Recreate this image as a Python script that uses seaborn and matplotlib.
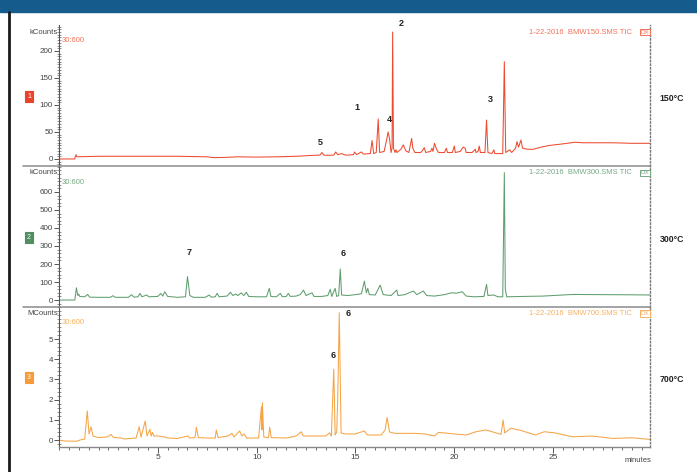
import matplotlib
matplotlib.use("Agg")
import matplotlib.pyplot as plt
import pandas as pd
import seaborn as sns
from matplotlib.lines import Line2D
from matplotlib.patches import Rectangle
from matplotlib.ticker import MultipleLocator, FixedLocator

# chromatogram points: (minutes, counts)
trace150 = [(0, 0), (0.8, 0), (0.82, 4), (0.86, 8), (0.9, 4), (2, 5), (4, 5), (6, 5),
            (7.5, 4), (7.8, 2.5), (8.5, 3), (9, 4), (10, 3.5), (11, 4), (12, 5), (12.5, 6),
            (13.0, 7), (13.2, 7), (13.3, 12), (13.4, 7), (13.9, 7), (14.0, 13), (14.1, 8),
            (14.3, 10), (14.5, 7), (14.9, 8), (14.95, 13), (15.05, 8), (15.3, 13), (15.4, 9),
            (15.75, 10), (15.84, 34), (15.92, 10), (16.05, 12), (16.15, 74), (16.22, 12),
            (16.45, 14), (16.6, 40), (16.65, 50), (16.72, 38), (16.8, 12), (16.85, 20),
            (16.88, 235), (16.92, 20), (17.0, 12), (17.05, 17), (17.1, 12), (17.3, 18),
            (17.42, 26), (17.55, 15), (17.7, 12), (17.8, 30), (17.84, 38), (17.9, 20),
            (18.0, 12), (18.3, 12), (18.4, 16), (18.48, 21), (18.55, 12), (18.8, 14),
            (18.87, 20), (18.92, 14), (19.0, 29), (19.1, 18), (19.2, 12), (19.5, 12),
            (19.6, 20), (19.65, 12), (19.9, 12), (20.0, 24), (20.05, 12), (20.3, 14),
            (20.45, 22), (20.55, 20), (20.6, 12), (20.9, 12), (21.06, 18), (21.1, 12),
            (21.2, 14), (21.26, 24), (21.32, 12), (21.55, 12), (21.63, 72), (21.7, 12),
            (21.9, 10), (22.0, 17), (22.05, 10), (22.45, 10), (22.53, 180), (22.6, 12),
            (22.8, 17), (22.9, 12), (23.1, 20), (23.17, 32), (23.25, 22), (23.37, 35),
            (23.45, 20), (23.7, 18), (24.0, 18), (24.4, 22), (24.8, 25), (25.5, 28),
            (26.1, 31), (26.5, 30), (27.3, 30), (28.0, 30), (29.0, 29), (29.9, 29)]

trace300 = [(0, 0), (0.8, 0), (0.88, 68), (0.95, 25), (1.0, 33), (1.05, 20), (1.3, 18),
            (1.45, 31), (1.55, 16), (2.0, 15), (2.6, 15), (2.73, 24), (2.85, 15), (3.5, 15),
            (3.67, 29), (3.8, 16), (4.0, 18), (4.09, 37), (4.2, 18), (4.43, 28), (4.55, 18),
            (5.0, 20), (5.15, 37), (5.25, 22), (5.35, 46), (5.5, 20), (6.0, 15), (6.4, 18),
            (6.5, 130), (6.62, 25), (6.8, 15), (7.4, 15), (7.6, 28), (7.7, 16), (7.9, 18),
            (8.0, 37), (8.1, 18), (8.5, 22), (8.67, 43), (8.8, 25), (8.94, 33), (9.05, 25),
            (9.22, 40), (9.35, 25), (9.48, 43), (9.6, 20), (10.0, 18), (10.5, 18),
            (10.64, 65), (10.72, 20), (11.0, 18), (11.2, 37), (11.3, 18), (11.5, 20),
            (11.6, 37), (11.7, 20), (12.0, 22), (12.2, 30), (12.37, 55), (12.5, 25),
            (12.8, 40), (12.9, 20), (13.3, 20), (13.6, 25), (13.72, 59), (13.8, 20),
            (13.97, 65), (14.05, 20), (14.15, 25), (14.23, 172), (14.3, 28), (14.6, 25),
            (15.0, 30), (15.3, 35), (15.45, 105), (15.55, 40), (15.62, 65), (15.7, 30),
            (16.0, 28), (16.25, 83), (16.4, 30), (16.8, 25), (17.09, 55), (17.15, 25),
            (17.5, 30), (17.93, 50), (18.1, 30), (18.43, 50), (18.6, 25), (19.0, 22),
            (19.5, 30), (19.85, 40), (20.1, 38), (20.4, 46), (20.6, 22), (21.0, 18),
            (21.5, 20), (21.63, 87), (21.7, 25), (22.0, 28), (22.2, 18), (22.45, 18),
            (22.53, 707), (22.58, 60), (22.65, 18), (23.5, 20), (24.5, 22), (26.0, 31),
            (27.5, 30), (29.0, 29), (29.9, 28)]

trace700 = [(0, 0), (0.3, -0.05), (0.9, -0.06), (1.06, 0.0), (1.3, 0.05), (1.43, 1.44),
            (1.52, 0.3), (1.62, 0.66), (1.72, 0.2), (2.0, 0.12), (2.4, 0.15), (2.5, 0.18),
            (2.63, 0.28), (2.75, 0.13), (3.17, 0.1), (3.3, 0.05), (3.9, 0.1), (4.06, 0.66),
            (4.15, 0.15), (4.36, 0.94), (4.45, 0.2), (4.6, 0.53), (4.66, 0.2), (4.73, 0.38),
            (4.8, 0.2), (5.0, 0.2), (5.35, 0.15), (5.5, 0.1), (6.0, 0.08), (6.53, 0.2),
            (6.6, 0.1), (6.88, 0.12), (6.95, 0.63), (7.05, 0.12), (7.5, 0.1), (7.9, 0.1),
            (7.96, 0.5), (8.05, 0.12), (8.55, 0.2), (8.75, 0.33), (8.85, 0.15), (9.14, 0.45),
            (9.25, 0.2), (9.36, 0.3), (9.5, 0.1), (10.1, 0.1), (10.24, 1.65), (10.27, 0.5),
            (10.29, 1.85), (10.36, 0.15), (10.6, 0.12), (10.66, 0.63), (10.74, 0.12),
            (11.5, 0.1), (12.0, 0.2), (12.26, 0.41), (12.35, 0.2), (13.0, 0.2), (13.5, 0.2),
            (13.69, 0.36), (13.78, 0.2), (13.9, 3.51), (13.97, 0.25), (14.05, 0.4),
            (14.1, 1.98), (14.18, 6.3), (14.27, 0.35), (14.5, 0.3), (15.0, 0.3),
            (15.45, 0.45), (15.6, 0.25), (16.3, 0.25), (16.5, 0.5), (16.6, 1.12),
            (16.72, 0.4), (17.0, 0.33), (18.0, 0.33), (18.5, 0.3), (19.0, 0.2), (19.2, 0.38),
            (20.0, 0.3), (20.6, 0.25), (21.1, 0.41), (21.6, 0.5), (22.36, 0.28),
            (22.47, 0.99), (22.55, 0.35), (22.86, 0.58), (23.28, 0.5), (24.1, 0.25),
            (24.55, 0.41), (25.05, 0.36), (25.98, 0.16), (26.98, 0.2), (28.0, 0.08),
            (29.0, 0.11), (29.9, 0.03)]

# peak numbers: (label, minutes, counts where the number sits)
peaks150 = [("5", 13.22, 31), ("1", 15.06, 96), ("4", 16.7, 73.5), ("2", 17.31, 251), ("3", 21.82, 111)]
peaks300 = [("7", 6.57, 263), ("6", 14.36, 256)]
peaks700 = [("6", 14.61, 6.24), ("6", 13.89, 4.16)]

runs = ["BMW150", "BMW300", "BMW700"]
temps = ["150°C", "300°C", "700°C"]
units = ["kCounts", "kCounts", "MCounts"]
yticks = [[0, 50, 100, 150, 200], [0, 100, 200, 300, 400, 500, 600], [0, 1, 2, 3, 4, 5]]
xticks = [5, 10, 15, 20, 25]

sns.set_style("white")
plt.rcParams["font.family"] = ["Liberation Sans", "DejaVu Sans"]

W, H = 697, 472
fig = plt.figure(figsize=(W / 100, H / 100), dpi=100)

def fx(px):
    return px / W

def fy(py):
    return 1 - py / H

# header band and left rule
fig.add_artist(Rectangle((0, fy(12)), 1, 12 / H, transform=fig.transFigure,
                         color="#155b8c", zorder=0))
fig.add_artist(Line2D([fx(8.5), fx(8.5)], [fy(12), 0], transform=fig.transFigure,
                      color="#1a1a1a", lw=2))

line_cols = ["#ee4a2e", "#5f9e6e", "#f6a444"]
text_cols = ["#f27258", "#76a986", "#f8b060"]
box_faces = ["#e8432c", "#4f8f60", "#f59c38"]
frames = [(25, 166), (166, 306.7), (306.7, 446.7)]
ylims = [(-13, 248), (-37, 744), (-0.33, 6.6)]
minors = [5, 20, 0.2]
traces = [trace150, trace300, trace700]
peak_sets = [peaks150, peaks300, peaks700]

for i in range(3):
    top, bot = frames[i]
    ax = fig.add_axes([fx(59), fy(bot), fx(650) - fx(59), (bot - top) / H])
    df = pd.DataFrame(traces[i], columns=["minutes", "counts"])
    sns.lineplot(data=df, x="minutes", y="counts", ax=ax, sort=False, estimator=None,
                 color=line_cols[i], lw=0.75)
    ax.set_xlim(0, 29.9)
    ax.set_ylim(*ylims[i])
    ax.set_xlabel("")
    ax.set_ylabel("")
    ax.patch.set_alpha(0)

    for s in ["top", "bottom"]:
        ax.spines[s].set_visible(False)
    ax.spines["left"].set_color("#555555")
    ax.spines["left"].set_linewidth(0.8)
    ax.spines["right"].set_color("#777777")
    ax.spines["right"].set_linestyle((0, (1, 1.6)))
    ax.spines["right"].set_linewidth(1.0)

    ax.yaxis.set_major_locator(FixedLocator(yticks[i]))
    ax.yaxis.set_minor_locator(MultipleLocator(minors[i]))
    ax.tick_params(axis="y", which="both", left=True, right=False)
    ax.tick_params(axis="y", which="major", direction="out", length=3.5, width=0.7,
                   color="#555555", labelsize=5.8, labelcolor="#444444", pad=0.8)
    ax.tick_params(axis="y", which="minor", direction="inout", length=2.5, width=0.5,
                   color="#666666")

    if i == 2:
        ax.spines["bottom"].set_visible(True)
        ax.spines["bottom"].set_color("#888888")
        ax.spines["bottom"].set_linewidth(1.0)
        ax.xaxis.set_major_locator(FixedLocator(xticks))
        ax.xaxis.set_minor_locator(MultipleLocator(0.5))
        ax.tick_params(axis="x", which="both", bottom=True, top=False)
        ax.tick_params(axis="x", which="major", direction="out", length=4, width=0.7,
                       color="#555555", labelsize=6, labelcolor="#444444", pad=1.5)
        ax.tick_params(axis="x", which="minor", direction="out", length=2, width=0.6,
                       color="#555555")
    else:
        ax.set_xticks([])
        fig.add_artist(Line2D([fx(23), fx(650)], [fy(bot), fy(bot)], transform=fig.transFigure,
                              color="#8a8a8a", lw=1.1))

    fig.text(fx(58), fy(top + 7), units[i], ha="right", va="center", fontsize=5.5,
             color="#444444")
    fig.text(fx(62), fy(top + 16), "30:600", ha="left", va="center", fontsize=5.5,
             color=text_cols[i])
    fig.text(fx(632), fy(top + 7), "1-22-2016  " + runs[i] + ".SMS TIC", ha="right",
             va="center", fontsize=5.5, color=text_cols[i])
    fig.text(fx(645), fy(top + 7), "DX", ha="center", va="center", fontsize=4.5,
             color=text_cols[i],
             bbox=dict(boxstyle="square,pad=0.15", fc="white", ec=text_cols[i], lw=0.7))
    fig.text(fx(29), fy((top + bot) / 2 + 1), str(i + 1), ha="center", va="center",
             fontsize=5, color="white",
             bbox=dict(boxstyle="square,pad=0.3", fc=box_faces[i], ec=box_faces[i], lw=0.8))
    fig.text(fx(672), fy((top + bot) / 2 + 3), temps[i], ha="center", va="center",
             fontsize=6.3, fontweight="bold", color="#222222")

    for lab, t, v in peak_sets[i]:
        ax.text(t, v, lab, ha="center", va="center", fontsize=6.5, fontweight="bold",
                color="#222222", clip_on=False)

fig.text(fx(638), fy(460), "minutes", ha="center", va="center", fontsize=5.5,
         color="#444444")

fig.savefig("out.png", dpi=100)
